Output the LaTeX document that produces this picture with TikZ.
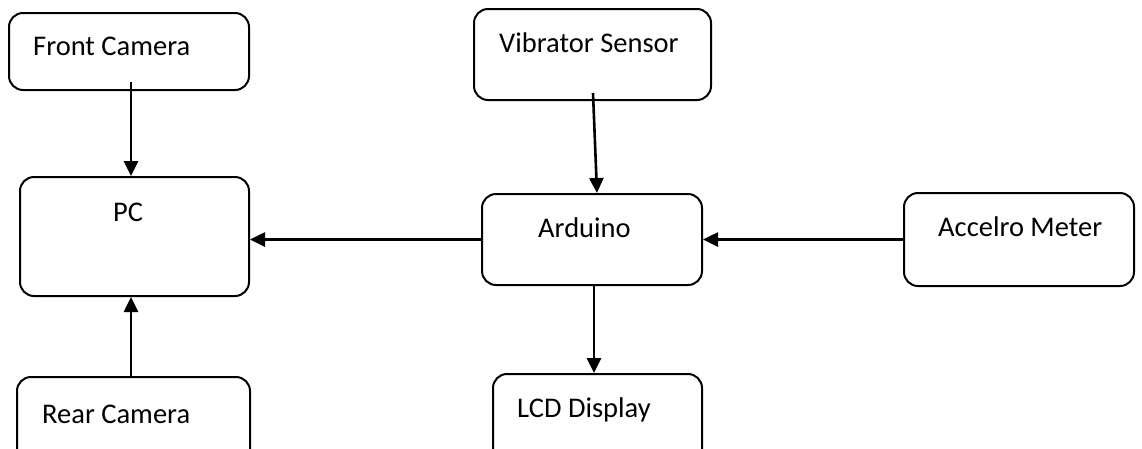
\documentclass[tikz,border=0pt]{standalone}
\usepackage{fontspec}
\setmainfont{Carlito}
\usetikzlibrary{arrows.meta}
\begin{document}
\begin{tikzpicture}[x=1pt,y=-1pt,
 box/.style={draw, line width=2pt, rounded corners=14pt, inner sep=0pt},
 lbl/.style={anchor=base west, inner sep=0pt, font=\fontsize{28.5}{34}\selectfont},
 arr/.style={line width=2.6pt, -{Triangle[length=15pt,width=14pt]}}]
\useasboundingbox (0,0) rectangle (1142,448);
\clip (0,0) rectangle (1142,448);
\node[box, minimum width=240pt, minimum height=77pt] (fc) at (129,51.5) {};
\node[box, minimum width=237pt, minimum height=91pt] (vs) at (592.5,54.5) {};
\node[box, minimum width=229pt, minimum height=119pt] (pc) at (134.5,236.5) {};
\node[box, minimum width=220pt, minimum height=91pt] (ard) at (592,239.5) {};
\node[box, minimum width=230pt, minimum height=93pt] (acc) at (1019,239.5) {};
\node[box, minimum width=233pt, minimum height=93pt] (rc) at (133.5,423.5) {};
\node[box, minimum width=209pt, minimum height=96pt] (lcd) at (597.5,422) {};
\node[lbl] (tfc) at (33,55) {Front Camera};
\node[lbl] (tvs) at (499,52) {Vibrator Sensor};
\node[lbl] (tpc) at (113,221) {PC};
\node[lbl] (tard) at (538,237) {Arduino};
\node[lbl] (tacc) at (938,236) {Accelro Meter};
\node[lbl] (trc) at (42,423) {Rear Camera};
\node[lbl] (tlcd) at (517,417) {LCD Display};
\draw[arr] ([xshift=2pt,yshift=9pt]fc.south) -- ([xshift=2pt]fc.south |- pc.north);
\draw[arr] ([xshift=-2.5pt]rc.north) -- ([xshift=-2.5pt]rc.north |- pc.south);
\draw[arr] ([xshift=0.5pt,yshift=8pt]vs.south) -- ([xshift=4.5pt]vs.south |- ard.north);
\draw[arr] (ard.west) -- (pc.east |- ard.west);
\draw[arr] (acc.west) -- (ard.east);
\draw[arr] ([xshift=2pt]ard.south) -- ([xshift=2pt]ard.south |- lcd.north);
\end{tikzpicture}
\end{document}
